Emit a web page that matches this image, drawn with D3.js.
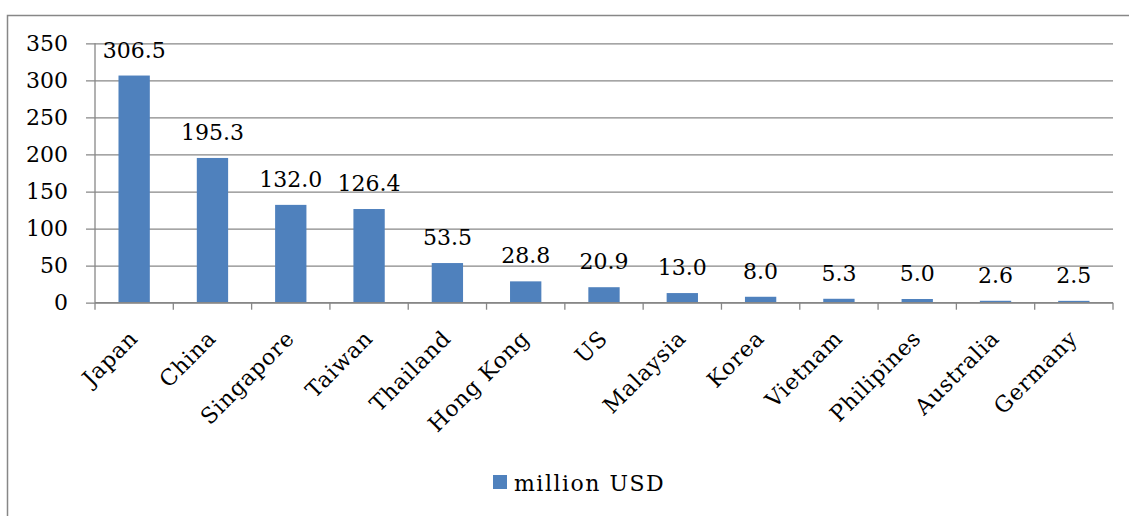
<!DOCTYPE html>
<html>
<head>
<meta charset="utf-8">
<script src="https://cdn.jsdelivr.net/npm/d3@7"></script>
<style>
  html, body { margin: 0; padding: 0; background: #fff; }
  svg { display: block; }
  text { font-family: "DejaVu Serif", serif; font-size: 22px; fill: #000; }
</style>
</head>
<body>
<svg id="chart" width="1129" height="516"></svg>
<script>
const categories = ["Japan", "China", "Singapore", "Taiwan", "Thailand", "Hong Kong", "US", "Malaysia", "Korea", "Vietnam", "Philipines", "Australia", "Germany"];
const values = [306.5, 195.3, 132.0, 126.4, 53.5, 28.8, 20.9, 13.0, 8.0, 5.3, 5.0, 2.6, 2.5];
const yTicks = [0, 50, 100, 150, 200, 250, 300, 350];
const seriesName = "million USD";

(function () {
const svg = d3.select("#chart");
const pLeft = 95, pRight = 1113, pTop = 43.3, pBottom = 302.7;
const gridColor = "#878787";
const barColor = "#4F81BD";

// outer frame (cropped at right and bottom)
svg.append("rect")
  .attr("x", 7.5).attr("y", 15.5)
  .attr("width", 1200).attr("height", 600)
  .attr("fill", "none").attr("stroke", gridColor).attr("stroke-width", 1.5);

const x = d3.scaleBand().domain(categories).range([pLeft, pRight])
  .paddingInner(0.6).paddingOuter(0.3);
const y = d3.scaleLinear().domain([0, 350]).range([pBottom, pTop]);

// gridlines + y ticks
const yAxis = d3.axisLeft(y).tickValues(yTicks).tickSize(pRight - pLeft + 9).tickPadding(18).tickFormat(d3.format("d"));
const gy = svg.append("g").attr("transform", `translate(${pRight},0)`).call(yAxis);
gy.select(".domain").remove();
gy.selectAll(".tick line").attr("stroke", gridColor).attr("stroke-width", 1.3);
gy.selectAll(".tick text")
  .attr("x", -(pRight - pLeft) - 27)
  .style("font-family", "DejaVu Serif").style("font-size", "22px").attr("fill", "#000");

// y axis line
svg.append("line").attr("x1", pLeft).attr("x2", pLeft).attr("y1", pTop).attr("y2", pBottom)
  .attr("stroke", gridColor).attr("stroke-width", 1.3);

// bars
svg.append("g").selectAll("rect").data(values).join("rect")
  .attr("x", (d, i) => x(categories[i]))
  .attr("y", d => y(d))
  .attr("width", x.bandwidth())
  .attr("height", d => y(0) - y(d))
  .attr("fill", barColor);

// x axis line and ticks at category boundaries
svg.append("line").attr("x1", pLeft).attr("x2", pRight).attr("y1", pBottom).attr("y2", pBottom)
  .attr("stroke", gridColor).attr("stroke-width", 1.3);
const step = x.step();
const boundaries = d3.range(categories.length + 1).map(i => pLeft + i * step);
svg.append("g").selectAll("line").data(boundaries).join("line")
  .attr("x1", d => d).attr("x2", d => d)
  .attr("y1", pBottom).attr("y2", pBottom + 7)
  .attr("stroke", gridColor).attr("stroke-width", 1.3);

// value labels
svg.append("g").selectAll("text").data(values).join("text")
  .attr("x", (d, i) => x(categories[i]) + x.bandwidth() / 2)
  .attr("y", d => y(d) - 18)
  .attr("text-anchor", "middle")
  .text(d => d.toFixed(1));

// category labels rotated
svg.append("g").selectAll("text").data(categories).join("text")
  .attr("transform", d => `translate(${x(d) + x.bandwidth() / 2 + 5},${pBottom + 37}) rotate(-45)`)
  .attr("text-anchor", "end")
  .style("letter-spacing", "0.8px")
  .text(d => d);

// legend
svg.append("rect").attr("x", 493).attr("y", 475).attr("width", 14).attr("height", 14).attr("fill", barColor);
svg.append("text").attr("x", 514).attr("y", 491).style("letter-spacing", "1.5px").text(seriesName);
})();
</script>
</body>
</html>
